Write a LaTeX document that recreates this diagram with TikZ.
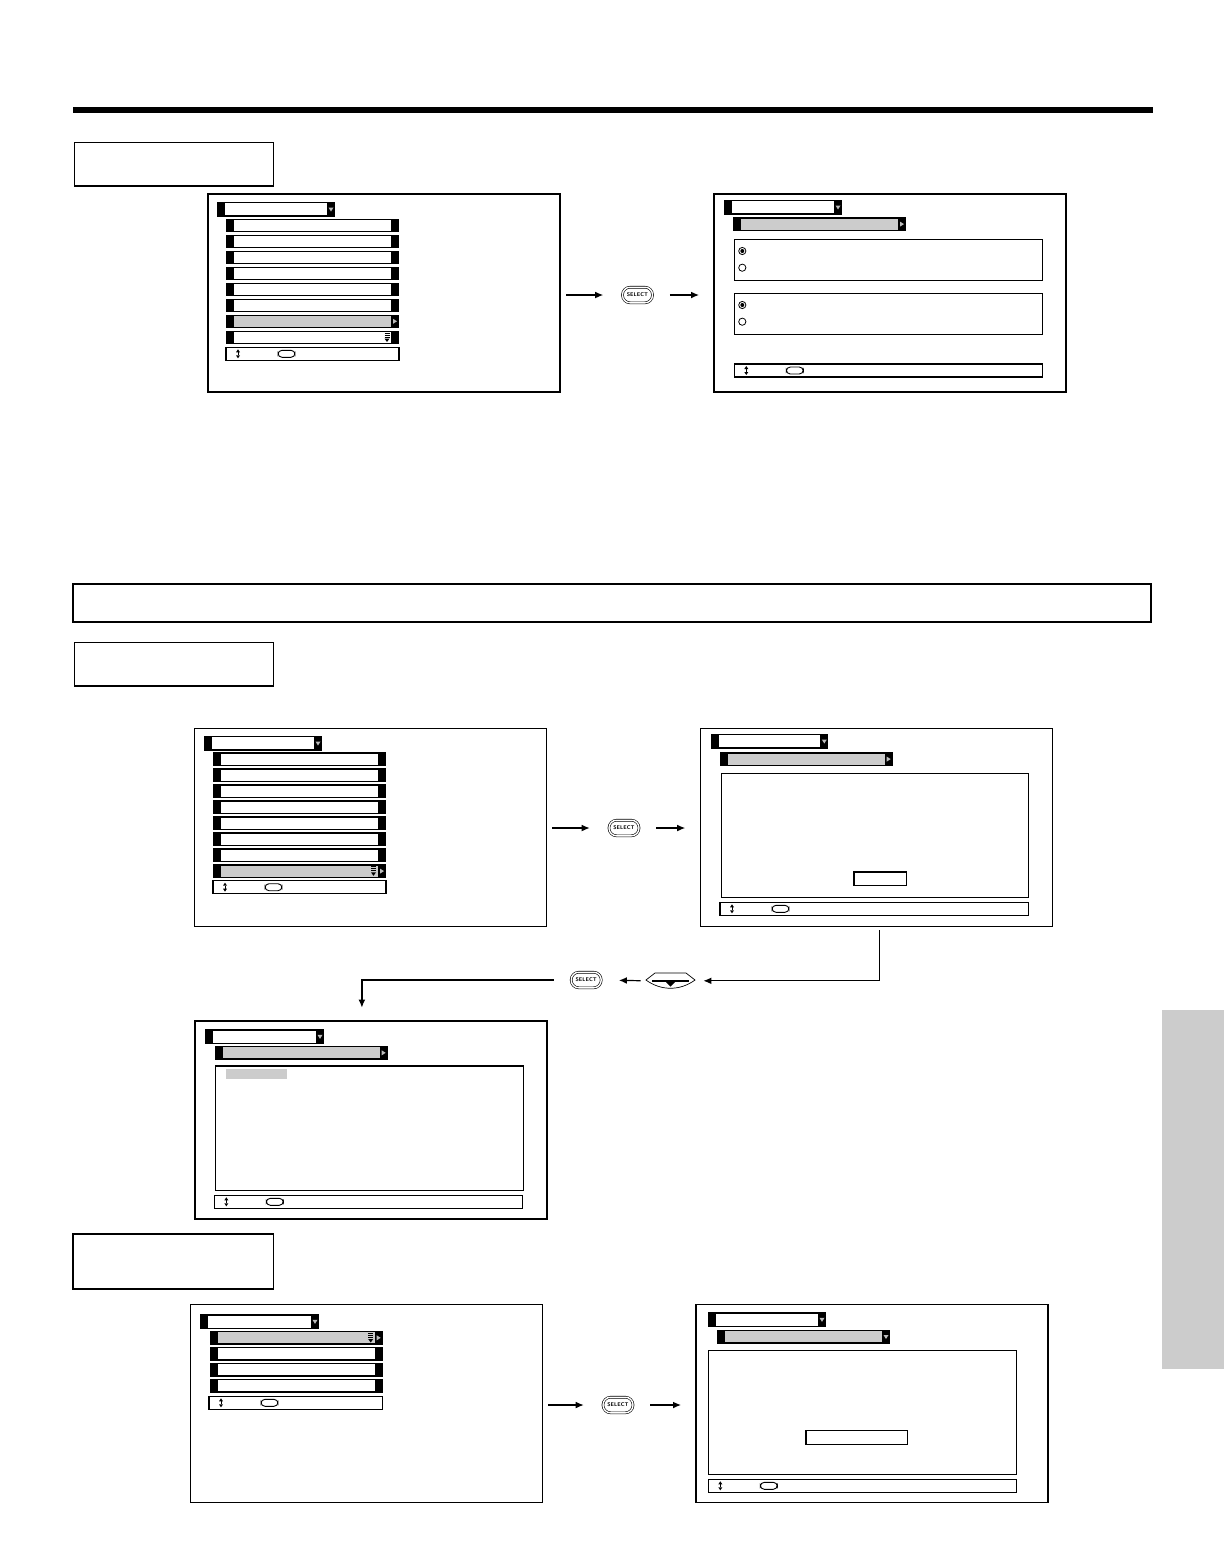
\documentclass[tikz,border=0pt]{standalone}
\usepackage{tikz}
\usetikzlibrary{arrows.meta,positioning}
\definecolor{hlgrey}{HTML}{CCCCCC}
\definecolor{iconc}{HTML}{BDBDBD}
\tikzset{
  ar/.style={-{Latex[length=4pt,width=3.4pt]},line width=0.6pt},
  screen/.style={draw,line width=0.7pt,minimum width=176pt,minimum height=99pt,inner sep=0pt,outer sep=0pt},
  tagbox/.style={draw,line width=0.7pt},
  panel/.style={draw,line width=0.6pt},
  radio/.style={draw,line width=0.4pt},
  selbtn/.style={draw,line width=0.3pt,double=white,double distance=0.7pt,rounded corners=3.8pt,
    minimum width=15pt,minimum height=7.8pt,inner sep=0pt,font=\fontsize{2.7}{3}\selectfont\sffamily\bfseries}
}
% menu pieces, in picture units
\newcommand{\osdtitle}[3]{%
  \fill (#1,#3) rectangle (#2,#3+14.5);
  \fill[white] (#1+8,#3+1.3) rectangle (#2-8,#3+13.2);
  \fill[iconc] (#2-6.5,#3+5.5) -- (#2-1.5,#3+5.5) -- (#2-4,#3+9.5) -- cycle;}
\newcommand{\osdrow}[4]{%
  \fill (#1,#3) rectangle (#2,#3+13.5);
  \fill[#4] (#1+8,#3+1.2) rectangle (#2-8,#3+12.3);}
\newcommand{\osdnext}[2]{%
  \fill[iconc] (#1-6,#2+4.3) -- (#1-6,#2+9.3) -- (#1-2,#2+6.8) -- cycle;}
\newcommand{\osddown}[2]{%
  \fill[iconc] (#1-6.5,#2+5) -- (#1-1.5,#2+5) -- (#1-4,#2+9) -- cycle;}
\newcommand{\osdscroll}[2]{%
  \foreach \k in {2.5,4.5,6.5} \draw[line width=0.4pt] (#1-2.5,#2+\k) -- (#1+2.5,#2+\k);
  \fill (#1-2.5,#2+8) -- (#1+2.5,#2+8) -- (#1,#2+11.5) -- cycle;}
\newcommand{\osdhelp}[3]{%
  \draw[panel] (#1,#3) rectangle (#2,#3+13);
  \fill (#1+10,#3+5) -- (#1+14,#3+5) -- (#1+12,#3+2) -- cycle;
  \fill (#1+10,#3+8) -- (#1+14,#3+8) -- (#1+12,#3+11) -- cycle;
  \draw[line width=0.3pt] (#1+12,#3+5) -- (#1+12,#3+8);
  \draw[line width=0.45pt,rounded corners=2pt] (#1+52,#3+3) rectangle (#1+69,#3+10);}

\begin{document}
\begin{tikzpicture}[x=0.5pt,y=-0.5pt]
\useasboundingbox (0,0) rectangle (1224,1560);
% page head
\fill (72.7,107.3) rectangle (1153,112.7);
\draw[tagbox] (74.3,142.3) rectangle (273.3,186);
\draw[line width=1.2pt] (73,584) rectangle (1151,621.7);
\draw[tagbox] (74.3,642.3) rectangle (273.3,686);
\draw[tagbox] (73,1234) rectangle (273.3,1289);
\fill[hlgrey] (1162,1010) rectangle (1224,1369.3);

% first pair
\node[screen] (scrA1) at (384,293) {};
\osdtitle{217}{335}{202}
\foreach \k in {0,...,5} {\osdrow{226}{399}{218.5+16*\k}{white}}
\osdrow{226}{399}{314.5}{hlgrey}\osdnext{399}{314.5}
\osdrow{226}{399}{330.5}{white}\osdscroll{387}{330.5}
\osdhelp{226}{399}{347.3}

\node[selbtn] (selA) at (637.5,295) {SELECT};

\node[screen] (scrA2) at (890,293) {};
\osdtitle{724}{842}{200}
\osdrow{733}{906}{217.3}{hlgrey}\osdnext{906}{217.3}
\draw[panel] (827,239.3) -| (1042.7,280.3) -| (734.3,239.3) -- (746.7,239.3);
\draw[line width=0.35pt] (746.7,239.3) -- (827,239.3);
\draw[radio] (742.3,251) circle[radius=1.8pt];
\fill (742.3,251) circle[radius=1pt];
\draw[radio] (742.3,267.7) circle[radius=1.8pt];
\draw[panel] (813.3,293.3) -| (1042.7,334.3) -| (734.3,293.3) -- (746.7,293.3);
\draw[line width=0.35pt] (746.7,293.3) -- (813.3,293.3);
\draw[radio] (742.3,305) circle[radius=1.8pt];
\fill (742.3,305) circle[radius=1pt];
\draw[radio] (742.3,321.7) circle[radius=1.8pt];
\osdhelp{734.3}{1042.7}{364}

\draw[ar,shorten <=3pt,shorten >=9.5pt] (scrA1.east |- selA) -- (selA.west);
\draw[ar,shorten <=8.5pt,shorten >=7.5pt] (selA.east) -- (scrA2.west |- selA);

% second block
\node[screen] (scrB1) at (370.4,827.2) {};
\osdtitle{204}{322}{736}
\foreach \k in {0,...,6} {\osdrow{213}{386}{752.3+16*\k}{white}}
\osdrow{213}{386}{864.3}{hlgrey}\osdnext{386}{864.3}\osdscroll{373.5}{864.3}
\osdhelp{213}{386}{880.7}

\node[selbtn] (selB) at (624,828) {SELECT};

\node[screen] (scrB2) at (876.2,827.3) {};
\osdtitle{711}{828.3}{734}
\osdrow{720}{892.7}{752.3}{hlgrey}\osdnext{892.7}{752.3}
\draw[panel] (721.3,773.3) rectangle (1028.7,897.3);
\draw[panel] (854,872) rectangle (906.7,885.7);
\osdhelp{720}{1028.7}{902.3}

\draw[ar,shorten <=3pt,shorten >=9.5pt] (scrB1.east |- selB) -- (selB.west);
\draw[ar,shorten <=8.5pt,shorten >=7.5pt] (selB.east) -- (scrB2.west |- selB);

% down key
\node[minimum width=24.5pt,minimum height=8pt,inner sep=0pt] (dpad) at (670.5,980.8) {};
\draw[line width=0.35pt] (655,973) -- (686,973) -- (695,980)
  .. controls (680,991) and (661,991) .. (646,980) -- cycle;
\draw[line width=1pt] (652,980.5) -- (689,980.5);
\fill (666,982) -- (675,982) -- (670.5,986.5) -- cycle;

\node[selbtn] (selC) at (586.2,980) {SELECT};

\node[screen] (scrB3) at (370.9,1120) {};
\osdtitle{205}{324}{1029.3}
\osdrow{215}{387.7}{1046}{hlgrey}\osdnext{387.7}{1046}
\draw[panel] (215.3,1066) rectangle (523.7,1190.7);
\fill[hlgrey] (226,1069) rectangle (287,1079);
\osdhelp{214.3}{522.7}{1195.3}

\draw[ar,shorten <=2pt,shorten >=4pt] ([xshift=1.5pt]scrB2.south) |- (dpad.east);
\draw[ar,shorten <=2.5pt,shorten >=8.7pt] (dpad.west) -- (selC.east);
\draw[ar,shorten <=8.6pt,shorten >=6.7pt] (selC.west) -| ([xshift=-4.5pt]scrB3.north);

% third block
\node[screen] (scrC1) at (366.3,1403.3) {};
\osdtitle{200}{319}{1314.3}
\osdrow{210}{382.7}{1331}{hlgrey}\osdnext{382.7}{1331}\osdscroll{370.7}{1331}
\foreach \k in {1,2,3} {\osdrow{210}{382.7}{1331+16*\k}{white}}
\osdhelp{209}{382.7}{1396.3}

\node[selbtn] (selD) at (618,1405) {SELECT};

\node[screen] (scrC2) at (872,1403.3) {};
\osdtitle{708}{826}{1312.3}
\osdrow{717}{890}{1330}{hlgrey}\osddown{890}{1330}
\draw[panel] (708.3,1350.3) rectangle (1016.7,1474.3);
\draw[panel] (806,1430.3) rectangle (907.7,1444.7);
\osdhelp{708.3}{1016.7}{1479.3}

\draw[ar,shorten <=3pt,shorten >=9.5pt] (scrC1.east |- selD) -- (selD.west);
\draw[ar,shorten <=8.5pt,shorten >=7.5pt] (selD.east) -- (scrC2.west |- selD);
\end{tikzpicture}
\end{document}
